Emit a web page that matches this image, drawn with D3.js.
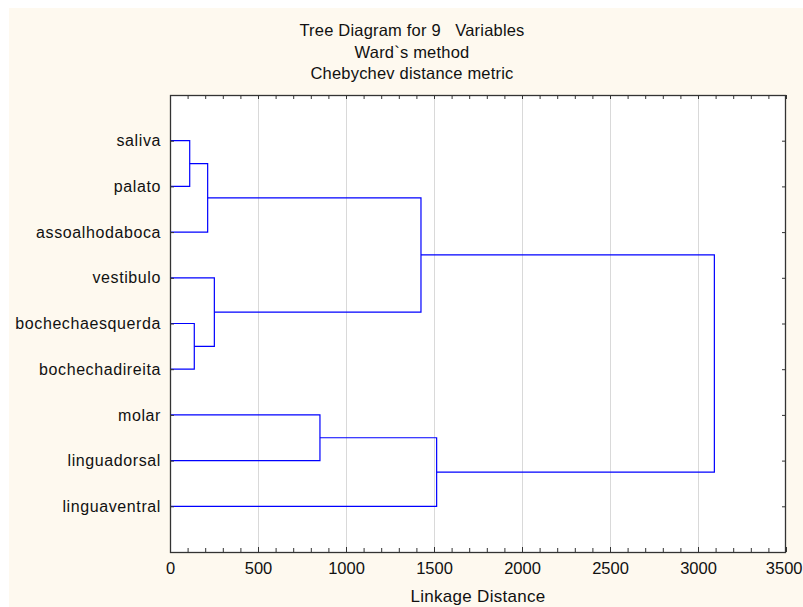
<!DOCTYPE html>
<html>
<head>
<meta charset="utf-8">
<script src="https://cdn.jsdelivr.net/npm/d3@7"></script>
<style>
  html, body { margin: 0; padding: 0; background: #ffffff; }
  svg { display: block; }
  text { font-family: "Liberation Sans", Arial, sans-serif; fill: #111; white-space: pre; }
</style>
</head>
<body>
<div id="chart"></div>
<script>
// Leaves, top to bottom
const leaves = ['saliva', 'palato', 'assoalhodaboca', 'vestibulo', 'bochechaesquerda',
    'bochechadireita', 'molar', 'linguadorsal', 'linguaventral'];

// Merge steps: [left node, right node, linkage distance]; new nodes get index 9, 10, ...
const mergeLeft = [0, 4, 9, 3, 6, 11, 13, 14];
const mergeRight = [1, 5, 2, 10, 7, 12, 8, 15];
const mergeHeight = [112, 138, 214, 252, 852, 1426, 1515, 3093];

const xTicks = [0, 500, 1000, 1500, 2000, 2500, 3000, 3500];
const titleLines = ['Tree Diagram for 9   Variables', 'Ward`s method', 'Chebychev distance metric'];

const W = 803, H = 607;
const plot = { left: 170, top: 95, right: 786, bottom: 552 };

const svg = d3.select('#chart').append('svg')
    .attr('width', W)
    .attr('height', H);

// cream page background (small white strip at top / left)
svg.append('rect')
    .attr('x', 9).attr('y', 8)
    .attr('width', W - 9).attr('height', H - 8)
    .attr('fill', '#fef9ef');

svg.append('rect')
    .attr('x', plot.left).attr('y', plot.top)
    .attr('width', plot.right - plot.left).attr('height', plot.bottom - plot.top)
    .attr('fill', '#ffffff');

const x = d3.scaleLinear().domain([0, 3500]).range([plot.left, plot.right]);
const y = d3.scaleLinear().domain([0, leaves.length + 1]).range([plot.top, plot.bottom]);

// grid
svg.append('g')
    .selectAll('line')
    .data(xTicks.filter(d => d > 0 && d < 3500))
    .enter().append('line')
    .attr('x1', d => Math.round(x(d)) + 0.5)
    .attr('x2', d => Math.round(x(d)) + 0.5)
    .attr('y1', plot.top)
    .attr('y2', plot.bottom)
    .attr('stroke', '#d9d9d9')
    .attr('stroke-width', 1);

// node positions
const nodeX = leaves.map(() => 0);
const nodeY = leaves.map((d, i) => i + 1);
mergeHeight.forEach((h, i) => {
    nodeX.push(h);
    nodeY.push((nodeY[mergeLeft[i]] + nodeY[mergeRight[i]]) / 2);
});

svg.append('g')
    .selectAll('path')
    .data(mergeHeight)
    .enter().append('path')
    .attr('fill', 'none')
    .attr('stroke', '#0000ff')
    .attr('stroke-width', 1.2)
    .attr('d', (h, i) => {
        const a = mergeLeft[i], b = mergeRight[i];
        return `M${x(nodeX[a])},${y(nodeY[a])}H${x(h)}V${y(nodeY[b])}H${x(nodeX[b])}`;
    });

// axes
const minorTicks = d3.range(0, 3501, 100);

svg.append('g')
    .attr('transform', `translate(0,${plot.bottom})`)
    .call(d3.axisBottom(x).tickValues(minorTicks).tickSize(-4).tickSizeOuter(0).tickFormat(''));

const bottomAxis = svg.append('g')
    .attr('transform', `translate(0,${plot.bottom})`)
    .call(d3.axisBottom(x).tickValues(xTicks).tickSize(-5).tickSizeOuter(0).tickPadding(10).tickFormat(d3.format('d')));

svg.append('g')
    .attr('transform', `translate(0,${plot.top})`)
    .call(d3.axisTop(x).tickValues(minorTicks).tickSize(-4).tickSizeOuter(0).tickFormat(''));

const yAxis = d3.axisLeft(y)
    .tickValues(leaves.map((d, i) => i + 1))
    .tickSize(-4)
    .tickSizeOuter(0)
    .tickPadding(9)
    .tickFormat(d => leaves[d - 1]);

const leftAxis = svg.append('g')
    .attr('transform', `translate(${plot.left},0)`)
    .call(yAxis);

svg.append('g')
    .attr('transform', `translate(${plot.right},0)`)
    .call(d3.axisRight(y).tickValues(leaves.map((d, i) => i + 1)).tickSize(-4).tickSizeOuter(0).tickFormat(''));

svg.selectAll('.domain').remove();
svg.selectAll('.tick line').attr('stroke', '#333');

bottomAxis.selectAll('text')
    .style('font-size', '16.5px')
    .style('font-family', '"Liberation Sans", Arial, sans-serif')
    .attr('fill', '#111');

// last label sits at the page edge; keep it inside
bottomAxis.selectAll('.tick text')
    .filter(d => d === 3500)
    .attr('text-anchor', 'end')
    .attr('x', W - plot.right - 1);

leftAxis.selectAll('text')
    .style('font-size', '16px')
    .style('letter-spacing', '0.6px')
    .style('font-family', '"Liberation Sans", Arial, sans-serif')
    .attr('fill', '#111');

// frame
svg.append('rect')
    .attr('x', plot.left + 0.5).attr('y', plot.top + 0.5)
    .attr('width', plot.right - plot.left - 1).attr('height', plot.bottom - plot.top)
    .attr('fill', 'none')
    .attr('stroke', '#333')
    .attr('stroke-width', 1.3);

// titles
svg.append('g')
    .selectAll('text')
    .data(titleLines)
    .enter().append('text')
    .attr('x', 412)
    .attr('y', (d, i) => 36 + i * 21.7)
    .attr('text-anchor', 'middle')
    .style('font-size', '16.5px')
    .style('letter-spacing', '0.2px')
    .text(d => d);

svg.append('text')
    .attr('x', (plot.left + plot.right) / 2)
    .attr('y', 602)
    .attr('text-anchor', 'middle')
    .style('font-size', '17px')
    .style('letter-spacing', '0.3px')
    .text('Linkage Distance');
</script>
</body>
</html>
